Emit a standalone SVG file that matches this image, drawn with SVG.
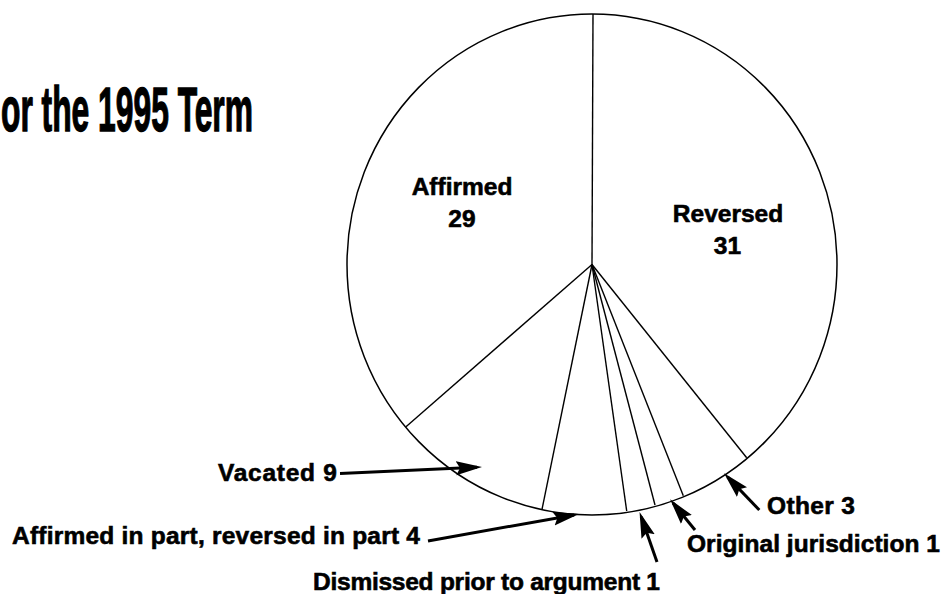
<svg xmlns="http://www.w3.org/2000/svg" width="944" height="594" viewBox="0 0 944 594">
  <style>
    .lbl { font-family: "Liberation Sans", Arial, sans-serif; font-weight: bold; font-size: 24.5px; fill: #000; stroke: #000; stroke-width: 0.6px; }
    .title { font-family: "Liberation Sans", Arial, sans-serif; font-weight: bold; font-size: 63px; fill: #000; stroke: #000; stroke-width: 1.4px; }
    .rim { fill: #fff; stroke: #000; stroke-width: 1.5; }
    .spoke { stroke: #000; stroke-width: 1.4; fill: none; }
    .arrow { stroke: #000; stroke-width: 3; fill: none; marker-end: url(#head); }
  </style>
  <defs>
    <marker id="head" markerUnits="userSpaceOnUse" markerWidth="26" markerHeight="15" refX="21" refY="7" orient="auto" viewBox="0 0 26 14">
      <path d="M0,0 L26,7 L0,14 L4,7 z" fill="#000"/>
    </marker>
  </defs>
  <rect width="944" height="594" fill="#fff"/>

  <text id="title" class="title" x="1" y="131" textLength="252" lengthAdjust="spacingAndGlyphs">or the 1995 Term</text>

  <g id="pie">
    <ellipse class="rim" cx="592" cy="264.5" rx="245" ry="250.5"/>
  </g>

  <g id="slice-reversed">
    <line class="spoke" x1="592" y1="264.5" x2="593" y2="14"/>
    <text class="lbl" x="728" y="222" text-anchor="middle">Reversed</text>
    <text class="lbl" x="727.5" y="253.5" text-anchor="middle">31</text>
  </g>
  <g id="slice-affirmed">
    <line class="spoke" x1="592" y1="264.5" x2="406" y2="426.7"/>
    <text class="lbl" x="462" y="195" text-anchor="middle">Affirmed</text>
    <text class="lbl" x="462" y="227" text-anchor="middle">29</text>
  </g>
  <g id="slice-vacated">
    <line class="spoke" x1="592" y1="264.5" x2="542" y2="509.3"/>
    <text class="lbl" x="337" y="481" text-anchor="end" textLength="119">Vacated 9</text>
  </g>
  <g id="slice-affirmed-in-part">
    <line class="spoke" x1="592" y1="264.5" x2="626.7" y2="511"/>
    <text class="lbl" x="420" y="544" text-anchor="end" textLength="408">Affirmed in part, reversed in part 4</text>
  </g>
  <g id="slice-dismissed">
    <line class="spoke" x1="592" y1="264.5" x2="655" y2="505"/>
    <text class="lbl" x="660" y="590" text-anchor="end" textLength="347">Dismissed prior to argument 1</text>
  </g>
  <g id="slice-original">
    <line class="spoke" x1="592" y1="264.5" x2="683.3" y2="495.7"/>
    <text class="lbl" x="687" y="552" textLength="253">Original jurisdiction 1</text>
  </g>
  <g id="slice-other">
    <line class="spoke" x1="592" y1="264.5" x2="746.7" y2="457.7"/>
    <text class="lbl" x="767" y="513.5" textLength="88">Other 3</text>
  </g>

  <g id="connectors">
    <line class="arrow" x1="340" y1="473.5" x2="477" y2="467.2"/>
    <line class="arrow" x1="428" y1="541" x2="574.1" y2="514.9"/>
    <line class="arrow" x1="657" y1="562" x2="641.2" y2="516.7"/>
    <line class="arrow" x1="695" y1="530" x2="673.2" y2="503.2"/>
    <line class="arrow" x1="759.3" y1="510" x2="727.5" y2="476.9"/>
  </g>
</svg>
